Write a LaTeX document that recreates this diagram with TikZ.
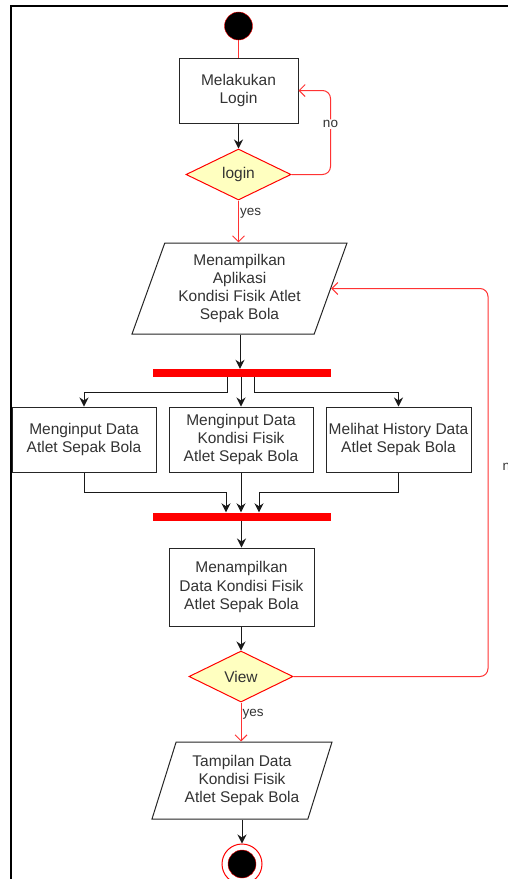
\documentclass[tikz,border=0pt]{standalone}
\usepackage{fontspec}
\setmainfont{Liberation Sans}
\usetikzlibrary{arrows.meta,shapes.geometric}
\definecolor{txtgray}{HTML}{333333}
\definecolor{decfill}{HTML}{FFFFC0}
\definecolor{flowred}{HTML}{FF3333}
\newcommand{\mainfs}{\fontsize{15.5}{18.3}\selectfont}
\newcommand{\lblfs}{\fontsize{13.5}{16}\selectfont}
\tikzset{
  actbox/.style={draw=black!85, line width=1pt, fill=white, align=center, inner sep=0pt},
  decision/.style={diamond, draw=red, fill=decfill, line width=1pt, minimum width=105, minimum height=51, inner sep=0pt},
  iobox/.style={trapezium, trapezium left angle=64.7, trapezium right angle=115.3, trapezium stretches body,
    draw=black!85, line width=1pt, fill=white, align=center, inner sep=0pt},
  syncbar/.style={fill=red, minimum width=178, minimum height=8, inner sep=0pt},
  initial/.style={circle, draw=red, fill=black, minimum size=28, inner sep=0pt},
  finalring/.style={circle, draw=red, fill=white, line width=1pt, minimum size=40, inner sep=0pt},
  finaldot/.style={circle, draw=red, fill=black, minimum size=28, inner sep=0pt},
  flow/.style={black!90, line width=1pt, -{Stealth[length=9pt,width=9pt]}},
  guard/.style={flowred, line width=1pt, -{Straight Barb[length=6pt,width=12pt]}},
  lbl/.style={font=\lblfs, text=txtgray, inner sep=1pt}
}
\begin{document}
\begin{tikzpicture}[x=1pt,y=-1pt,font=\mainfs,text=txtgray]
  \useasboundingbox (0,0) rectangle (508,879);
  \clip (0,0) rectangle (508,879);
  % frame
  \draw[line width=1.3pt] (11,879) -- (11,6) -- (508,6);

  \node[initial] (start) at (238.5,26) {};
  \node[actbox, minimum width=119, minimum height=65] (login) at (238.5,90.5) {Melakukan\\Login};
  \node[decision] (chk) at (238.5,174.5) {login};
  \node[iobox, minimum width=215, minimum height=91] (app) at (239.5,288.5)
    {Menampilkan\\Aplikasi\\Kondisi Fisik Atlet\\Sepak Bola};
  \node[syncbar] (fork) at (242,373) {};
  \node[actbox, minimum width=144, minimum height=65] (inAtlet) at (84,439.5) {Menginput Data\\Atlet Sepak Bola};
  \node[actbox, minimum width=144, minimum height=65] (inKondisi) at (241,439.5) {Menginput Data\\Kondisi Fisik\\Atlet Sepak Bola};
  \node[actbox, minimum width=145, minimum height=65] (history) at (398.5,439.5) {Melihat History Data\\Atlet Sepak Bola};
  \node[syncbar] (join) at (242,516.5) {};
  \node[actbox, minimum width=145, minimum height=78] (showData) at (241.5,587) {Menampilkan\\Data Kondisi Fisik\\Atlet Sepak Bola};
  \node[decision, minimum width=104] (view) at (241,676.5) {View};
  \node[iobox, minimum width=180, minimum height=77] (result) at (242,780.5)
    {Tampilan Data\\Kondisi Fisik\\Atlet Sepak Bola};
  \node[finalring] (endRing) at (242,864) {};
  \node[finaldot] (endDot) at (242,864) {};
  \coordinate (loopR) at (488,676.5);

  % connectors
  \draw[flowred, line width=1pt] (start) -- (login);
  \draw[flow] (login) -- (chk);
  \draw[guard, rounded corners=8] (chk.east) -- ++(39,0) |- (login.east)
    node[lbl, pos=0.3, fill=white] {no};
  \draw[guard] (chk.south) -- (chk.south |- app.north)
    node[lbl, pos=0.3, anchor=west] {yes};
  \draw[flow] (app.south -| 240,0) -- (fork.north -| 240,0);
  \draw[flow] ([xshift=-15]fork.south) -- ++(0,15) -| (inAtlet.north);
  \draw[flow] (fork.south -| inKondisi.north) -- (inKondisi.north);
  \draw[flow] ([xshift=12]fork.south) -- ++(0,15) -| (history.north);
  \draw[flow] (inAtlet.south) -- ++(0,20) -| ([xshift=-16]join.north);
  \draw[flow] (inKondisi.south) -- (inKondisi.south |- join.north);
  \draw[flow] (history.south) -- ++(0,20) -| ([xshift=17]join.north);
  \draw[flow] (join.south -| showData.north) -- (showData.north);
  \draw[flow] (showData.south -| view.north) -- (view.north);
  \draw[guard, rounded corners=8] (view.east) -- (loopR) |- (app.east)
    node[lbl, pos=0.27, anchor=west, xshift=13] {no};
  \draw[guard] (view.south) -- (view.south |- result.north)
    node[lbl, pos=0.3, anchor=west] {yes};
  \draw[flow] (result.south -| endRing.north) -- (endRing.north);
\end{tikzpicture}
\end{document}
